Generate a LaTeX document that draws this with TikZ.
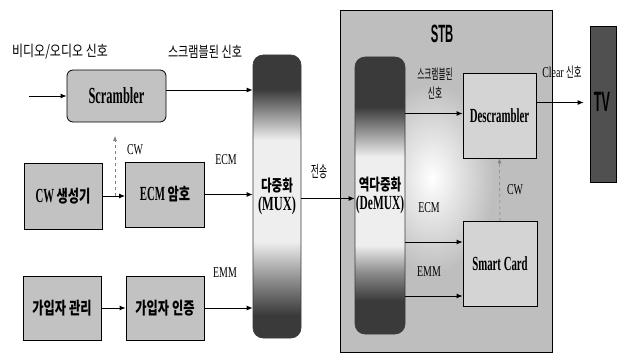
\documentclass[tikz,border=0pt]{standalone}
\usepackage{fontspec}
\setmainfont{Liberation Serif}
\newfontfamily\LB[FakeStretch=0.54]{Liberation Serif Bold}
\newfontfamily\LR[FakeStretch=0.66]{Liberation Serif}
\newfontfamily\KB[FakeStretch=0.72]{Noto Sans CJK KR}
\newfontfamily\KR[FakeStretch=0.8]{Noto Sans CJK KR}
\newfontfamily\KN[FakeStretch=0.55]{Noto Sans CJK KR}
\newfontfamily\SB[FakeStretch=0.45]{Liberation Sans}
\usetikzlibrary{calc,arrows.meta}
\definecolor{mdk}{HTML}{3A3A3A}
\definecolor{mmid}{HTML}{8A8A8A}
\definecolor{mlt}{HTML}{EEEEEE}
\definecolor{stbgray}{HTML}{BEBEBE}
\definecolor{boxgray}{HTML}{C2C2C2}
\definecolor{lightbox}{HTML}{D4D4D4}
\definecolor{tvgray}{HTML}{505050}
\pgfdeclareverticalshading{muxsh}{100bp}{color(0bp)=(mdk); color(29bp)=(mdk); color(35bp)=(mmid); color(42bp)=(mlt); color(60bp)=(mlt); color(65bp)=(mmid); color(69bp)=(mdk); color(100bp)=(mdk)}
\pgfdeclareverticalshading{demuxsh}{100bp}{color(0bp)=(mdk); color(31bp)=(mdk); color(36bp)=(mmid); color(41bp)=(mlt); color(57bp)=(mlt); color(62bp)=(mmid); color(66bp)=(mdk); color(100bp)=(mdk)}
\tikzset{
  arr/.style={line width=1pt,-{Latex[length=6pt,width=5pt]}},
  darr/.style={line width=0.6pt,gray,dashed,-{Latex[length=5pt,width=4pt]}},
  blk/.style={draw=black,line width=0.8pt,fill=boxgray,inner sep=0pt},
  lblk/.style={draw=black,line width=0.8pt,fill=lightbox,inner sep=0pt},
  bigtxt/.style={font=\LB\fontsize{20}{22}\selectfont},
  krbox/.style={font=\KB\bfseries\fontsize{17}{19}\selectfont},
  krlbl/.style={font=\KR\fontsize{14}{16}\selectfont,inner sep=0pt},
  latlbl/.style={font=\LR\fontsize{15}{17}\selectfont,inner sep=0pt},
  muxbox/.style={draw=mdk,line width=0.6pt,rounded corners=10pt,inner sep=0pt,align=center},
}
\begin{document}
\begin{tikzpicture}[x=1pt,y=-1pt]
\useasboundingbox (0,0) rectangle (618,353);
% STB background
\node[draw=black,line width=0.8pt,fill=stbgray,minimum width=212pt,minimum height=342pt,inner sep=0pt] (stb) at (446,181) {};
\begin{scope}
\clip (405,60) rectangle (540,300);
\shade[inner color=white,outer color=stbgray] (432,178) ellipse (62pt and 95pt);
\end{scope}
\node[font=\SB\bfseries\fontsize{25}{27}\selectfont,inner sep=0pt] (stbl) at (442,34) {STB};
% left side
\node[blk,rounded corners=6pt,minimum width=99pt,minimum height=52pt,font=\LB\fontsize{23}{25}\selectfont] (scr) at (116.5,96) {Scrambler};
\node[muxbox,shading=muxsh,minimum width=48pt,minimum height=283pt] (mux) at (277,196.5)
  {{\KB\bfseries\fontsize{16}{18}\selectfont 다중화}\\[2pt]{\LB\fontsize{20}{22}\selectfont\addfontfeature{FakeStretch=0.62}(MUX)}};
\node[blk,minimum width=78pt,minimum height=66pt] (cwg) at (63,196) {{\LB\fontsize{20}{22}\selectfont CW} {\KB\bfseries\fontsize{17}{19}\selectfont 생성기}};
\node[blk,minimum width=79pt,minimum height=65pt] (ecm) at (165,194.5) {{\LB\fontsize{20}{22}\selectfont ECM} {\KB\bfseries\fontsize{17}{19}\selectfont 암호}};
\node[blk,krbox,minimum width=78pt,minimum height=64pt] (sub) at (62,308) {가입자 관리};
\node[blk,krbox,minimum width=78pt,minimum height=64pt] (auth) at (165,308) {가입자 인증};
% STB contents
\node[muxbox,shading=demuxsh,minimum width=50pt,minimum height=277pt] (demux) at (380,195.5)
  {{\KB\bfseries\fontsize{16}{18}\selectfont 역다중화}\\[2pt]{\LB\fontsize{20}{22}\selectfont\addfontfeature{FakeStretch=0.57}(DeMUX)}};
\node[lblk,bigtxt,minimum width=73pt,minimum height=85pt] (desc) at (499.5,115.5) {Descrambler};
\node[lblk,bigtxt,minimum width=74pt,minimum height=85pt] (sc) at (500,264) {Smart Card};
\node[draw=black,line width=0.6pt,fill=tvgray,minimum width=26pt,minimum height=156pt,inner sep=0pt] (tv) at (603,104) {};
\node[font=\SB\bfseries\fontsize{28}{30}\selectfont,inner sep=0pt] (tvl) at (602,102) {TV};
% labels
\node[krlbl,font=\KR\fontsize{15}{17}\selectfont] (l1) at (60,52) {비디오/오디오 신호};
\node[krlbl,font=\KR\addfontfeature{FakeStretch=0.74}\fontsize{15}{17}\selectfont] (l2) at (205,52) {스크램블된 신호};
\node[latlbl] (lcw1) at (135,150) {CW};
\node[latlbl] (lecm1) at (226,160) {ECM};
\node[latlbl] (lemm1) at (225,273) {EMM};
\node[font=\KN\fontsize{16}{18}\selectfont,inner sep=0pt] (ltx) at (319,171) {전송};
\node[font=\KN\fontsize{14}{16}\selectfont,inner sep=0pt,align=center] (l3) at (435,84) {스크램블된\\[3pt]신호};
\node[inner sep=0pt] (l4) at (562,72) {{\LR\fontsize{15}{17}\selectfont Clear} {\KR\addfontfeature{FakeStretch=0.6}\fontsize{14}{16}\selectfont 신호}};
\node[latlbl] (lecm2) at (429,208) {ECM};
\node[latlbl] (lemm2) at (429,272) {EMM};
\node[latlbl] (lcw2) at (515,190) {CW};
% connectors
\coordinate (in) at (29,96);
\draw[arr] (in) -- (scr.west);
\draw[arr] ($(scr.east)+(0,-6)$) -- ($(scr.east -| mux.west)+(0,-6)$);
\coordinate (cwup) at (115,136);
\draw[darr] (cwg.east -| cwup) -- (cwup);
\draw[arr] (cwg.east) -- (cwg.east -| ecm.west);
\draw[arr] (ecm.east) -- (ecm.east -| mux.west);
\draw[arr] (sub.east) -- (sub.east -| auth.west);
\draw[arr] (auth.east) -- (auth.east -| mux.west);
\draw[arr] ($(mux.east)+(0,2)$) -- ($(mux.east -| demux.west)+(0,2)$);
\draw[arr] ($(desc.west -| demux.east)+(0,-2)$) -- ($(desc.west)+(0,-2)$);
\draw[arr] ($(sc.west -| demux.east)+(0,-22)$) -- ($(sc.west)+(0,-22)$);
\draw[arr] ($(sc.west -| demux.east)+(0,32)$) -- ($(sc.west)+(0,32)$);
\draw[darr] (sc.north) -- (desc.south);
\draw[arr,shorten >=6pt] ($(desc.east)+(0,-13)$) -- ($(desc.east -| tv.west)+(0,-13)$);
\end{tikzpicture}
\end{document}
